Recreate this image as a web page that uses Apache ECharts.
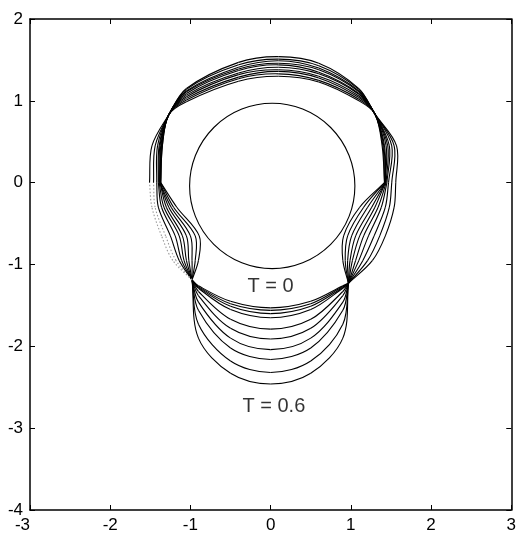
<!DOCTYPE html>
<html>
<head>
<meta charset="utf-8">
<script src="https://cdn.jsdelivr.net/npm/echarts@6/dist/echarts.min.js"></script>
<style>
  html, body { margin: 0; padding: 0; background: #fff; }
  #chart { width: 519px; height: 537px; }
</style>
</head>
<body>
<div id="chart"></div>
<script>
// Initial circle: centre x, centre y, radius
const initialCircle = [0.02, -0.04, 1.02];

// Points shared by every outline (shoulders and lower pinch points)
const shoulderLeft = [-1.27, 0.83];
const shoulderRight = [1.30, 0.84];
const pinchLowerLeft = [-0.98, -1.19];
const pinchLowerRight = [0.97, -1.23];

// Upper arc of each outline: y at x = -1.05, -0.4, 0.1, 0.6, 1.1
const topArcX = [-1.05, -0.4, 0.1, 0.6, 1.1];
const topY1 = [0.99, 1.01, 1.03, 1.05, 1.07, 1.09, 1.11, 1.12, 1.14, 1.15];
const topY2 = [1.24, 1.27, 1.29, 1.32, 1.34, 1.37, 1.39, 1.41, 1.44, 1.47];
const topY3 = [1.30, 1.33, 1.36, 1.38, 1.41, 1.44, 1.46, 1.49, 1.51, 1.54];
const topY4 = [1.23, 1.25, 1.28, 1.30, 1.33, 1.35, 1.38, 1.40, 1.43, 1.46];
const topY5 = [1.00, 1.02, 1.04, 1.06, 1.08, 1.09, 1.11, 1.12, 1.14, 1.15];

// Flanks above the upper pinch: x at y = 0.45 and at y = 0
const upperLeftX = [-1.35, -1.35, -1.36, -1.36, -1.37, -1.38, -1.39, -1.41, -1.44, -1.48];
const upperRightX = [1.39, 1.40, 1.41, 1.42, 1.44, 1.46, 1.48, 1.51, 1.54, 1.57];
const pinchLeftX = [-1.37, -1.37, -1.38, -1.38, -1.38, -1.39, -1.40, -1.42, -1.46, -1.51];
const pinchRightX = [1.42, 1.42, 1.43, 1.43, 1.43, 1.44, 1.45, 1.47, 1.51, 1.56];

// Side walls between the pinch points: x at y = -0.3, -0.65, -0.95
const sideY = [-0.3, -0.65, -0.95];
const leftWallA = [-1.17, -1.21, -1.24, -1.27, -1.30, -1.33, -1.36, -1.40, -1.44, -1.48];
const leftWallB = [-0.89, -0.94, -1.00, -1.05, -1.10, -1.14, -1.19, -1.25, -1.31, -1.36];
const leftWallC = [-0.90, -0.94, -0.98, -1.02, -1.05, -1.08, -1.11, -1.14, -1.18, -1.22];
const rightWallA = [1.11, 1.16, 1.21, 1.26, 1.30, 1.34, 1.38, 1.43, 1.48, 1.54];
const rightWallB = [0.91, 0.96, 1.01, 1.06, 1.11, 1.16, 1.22, 1.29, 1.36, 1.43];
const rightWallC = [0.90, 0.93, 0.96, 0.99, 1.02, 1.06, 1.10, 1.15, 1.21, 1.27];

// Lower lobe: y at x = +/-0.9, +/-0.5 and 0
const bottomX = [0.9, 0.5, 0, -0.5, -0.9];
const bottomY90 = [-1.26, -1.27, -1.28, -1.29, -1.33, -1.38, -1.46, -1.56, -1.73, -1.90];
const bottomY50 = [-1.45, -1.48, -1.51, -1.55, -1.67, -1.78, -1.90, -2.02, -2.18, -2.33];
const bottomY00 = [-1.53, -1.56, -1.60, -1.65, -1.79, -1.91, -2.04, -2.16, -2.32, -2.46];

// Annotations
const noteText = ['T = 0', 'T = 0.6'];
const noteX = [0.0, 0.04];
const noteY = [-1.27, -2.74];

const INK = '#000';

// Each outline is drawn as four pieces that meet at the pinch points
const segments = [];
for (let k = 0; k < topY3.length; k++) {
  segments.push({ faint: false, pts: [
    [pinchLeftX[k], 0], [upperLeftX[k], 0.45], shoulderLeft,
    [topArcX[0], topY1[k]], [topArcX[1], topY2[k]], [topArcX[2], topY3[k]],
    [topArcX[3], topY4[k]], [topArcX[4], topY5[k]],
    shoulderRight, [upperRightX[k], 0.45], [pinchRightX[k], 0]
  ] });
  segments.push({ faint: false, pts: [
    [pinchRightX[k], 0], [rightWallA[k], sideY[0]], [rightWallB[k], sideY[1]],
    [rightWallC[k], sideY[2]], pinchLowerRight
  ] });
  segments.push({ faint: false, pts: [
    pinchLowerRight, [bottomX[0], bottomY90[k]], [bottomX[1], bottomY50[k]],
    [bottomX[2], bottomY00[k]], [bottomX[3], bottomY50[k]], [bottomX[4], bottomY90[k]],
    pinchLowerLeft
  ] });
  segments.push({ faint: k >= 8, pts: [
    pinchLowerLeft, [leftWallC[k], sideY[2]], [leftWallB[k], sideY[1]],
    [leftWallA[k], sideY[0]], [pinchLeftX[k], 0]
  ] });
}

// Smooth curve through pixel points: cubic pieces with chord-scaled tangents
function smoothPieces(p) {
  const n = p.length;
  const d = (a, b) => Math.hypot(b[0] - a[0], b[1] - a[1]) || 1e-6;
  const tan = [];
  for (let i = 0; i < n; i++) {
    if (i === 0) { const l = d(p[0], p[1]); tan.push([(p[1][0] - p[0][0]) / l, (p[1][1] - p[0][1]) / l]); }
    else if (i === n - 1) { const l = d(p[n - 2], p[n - 1]); tan.push([(p[n - 1][0] - p[n - 2][0]) / l, (p[n - 1][1] - p[n - 2][1]) / l]); }
    else {
      const l = d(p[i - 1], p[i]) + d(p[i], p[i + 1]);
      tan.push([(p[i + 1][0] - p[i - 1][0]) / l, (p[i + 1][1] - p[i - 1][1]) / l]);
    }
  }
  const out = [];
  for (let i = 0; i < n - 1; i++) {
    const h = d(p[i], p[i + 1]) / 3;
    out.push({
      type: 'bezierCurve',
      shape: {
        x1: p[i][0], y1: p[i][1], x2: p[i + 1][0], y2: p[i + 1][1],
        cpx1: p[i][0] + tan[i][0] * h, cpy1: p[i][1] + tan[i][1] * h,
        cpx2: p[i + 1][0] - tan[i + 1][0] * h, cpy2: p[i + 1][1] - tan[i + 1][1] * h
      }
    });
  }
  return out;
}

const axisFont = { fontFamily: 'Liberation Sans, Arial, sans-serif', fontSize: 17, color: '#000' };
function makeAxis(pos, showLabel, min, max, extra) {
  return {
    type: 'value', position: pos, min: min, max: max, interval: 1,
    axisLine: { show: true, onZero: false, lineStyle: { color: '#000', width: 1.5 } },
    axisTick: { show: true, inside: true, length: 5, lineStyle: { color: '#000', width: 1 } },
    axisLabel: Object.assign({ show: showLabel, margin: 7 }, axisFont, extra || {}),
    splitLine: { show: false }
  };
}

const chart = echarts.init(document.getElementById('chart'), null, { renderer: 'canvas' });
chart.setOption({
  animation: false,
  backgroundColor: '#fff',
  grid: { left: 30, right: 4, top: 19, bottom: 27 },
  xAxis: [makeAxis('bottom', true, -3, 3, { alignMinLabel: 'right' }), makeAxis('top', false, -3, 3)],
  yAxis: [makeAxis('left', true, -4, 2), makeAxis('right', false, -4, 2)],
  series: [
    {
      type: 'custom',
      silent: true,
      data: segments.map((s, i) => [i, 0]),
      encode: { x: 0, y: 1 },
      renderItem: function (params, api) {
        const seg = segments[params.dataIndex];
        const px = seg.pts.map(q => api.coord(q));
        return {
          type: 'group',
          children: smoothPieces(px).map(c => Object.assign(c, {
            style: {
              fill: 'none',
              stroke: seg.faint ? '#999' : INK,
              lineWidth: 1.1,
              lineDash: seg.faint ? [1.5, 2] : null
            }
          }))
        };
      },
      z: 3
    },
    {
      type: 'custom',
      silent: true,
      data: [initialCircle],
      renderItem: function (params, api) {
        const c = api.coord([api.value(0), api.value(1)]);
        const s = api.size([api.value(2), api.value(2)]);
        return {
          type: 'circle',
          shape: { cx: c[0], cy: c[1], r: (s[0] + s[1]) / 2 },
          style: { fill: 'none', stroke: INK, lineWidth: 1.1 }
        };
      },
      z: 3
    },
    {
      type: 'scatter',
      silent: true,
      symbolSize: 0,
      data: noteText.map((t, i) => ({ value: [noteX[i], noteY[i]], name: t })),
      label: {
        show: true, position: 'inside',
        formatter: p => p.name,
        fontFamily: 'Liberation Sans, Arial, sans-serif', fontSize: 20, color: '#000'
      },
      z: 4
    }
  ]
});
</script>
</body>
</html>
